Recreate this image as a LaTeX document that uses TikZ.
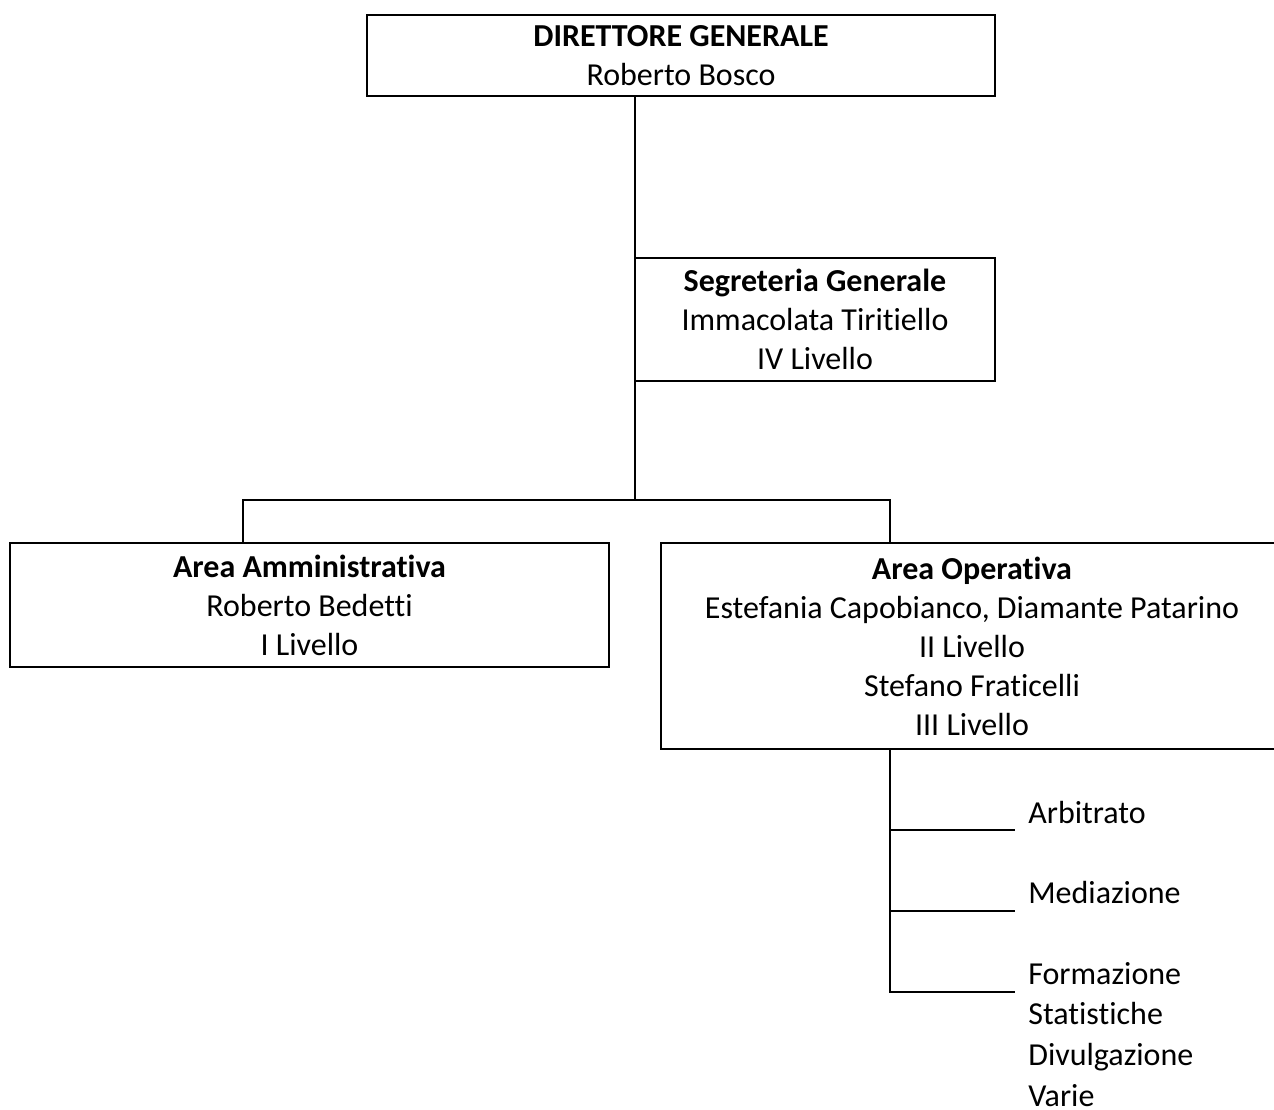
\documentclass[tikz,border=0pt]{standalone}
\usepackage{fontspec}
\setmainfont[Ligatures=NoCommon]{Carlito}
\begin{document}
\begin{tikzpicture}[x=1pt, y=-1pt, line width=2pt,
  font=\fontsize{32}{39}\selectfont,
  orgbox/.style={draw, align=center, inner sep=0pt}]
\useasboundingbox (0,0) rectangle (1274,1109);

% Direttore generale
\node[orgbox, minimum width=628pt, minimum height=81pt] (dg) at (681,55.5) {\textbf{DIRETTORE GENERALE}\\Roberto Bosco};

% Segreteria generale
\node[orgbox, minimum width=360pt, minimum height=123pt] (seg) at (815,319.5) {\textbf{Segreteria Generale}\\Immacolata Tiritiello\\IV Livello};
\coordinate (j) at (635,500);
\draw (dg.south -| j) -- (j);

% Aree
\node[orgbox, minimum width=599pt, minimum height=124pt] (aa) at (309.5,605) {\textbf{Area Amministrativa}\\Roberto Bedetti\\I Livello};
\node[orgbox, minimum width=622pt, minimum height=206pt] (ao) at (972,646) {\textbf{Area Operativa}\\Estefania Capobianco, Diamante Patarino\\II Livello\\Stefano Fraticelli\\III Livello};
\coordinate (aatop) at (243,543);
\coordinate (aotop) at (890,543);
\draw (aatop) |- (j) -| (aotop);

% Settori dell'area operativa
\coordinate (aobot) at (890,749);
\coordinate (s1) at (1015,830);
\coordinate (s2) at (1015,911);
\coordinate (s3) at (1015,992);
\draw (aobot) |- (s3);
\draw (aobot |- s1) -- (s1);
\draw (aobot |- s2) -- (s2);
\node[anchor=west] (arb) at (1024,812) {Arbitrato};
\node[anchor=west] (med) at (1024,892) {Mediazione};
\node[anchor=north west, align=left, inner ysep=1pt, font=\fontsize{32}{40.7}\selectfont] (form) at (1024,960) {Formazione\\Statistiche\\Divulgazione\\Varie};

\end{tikzpicture}
\end{document}
